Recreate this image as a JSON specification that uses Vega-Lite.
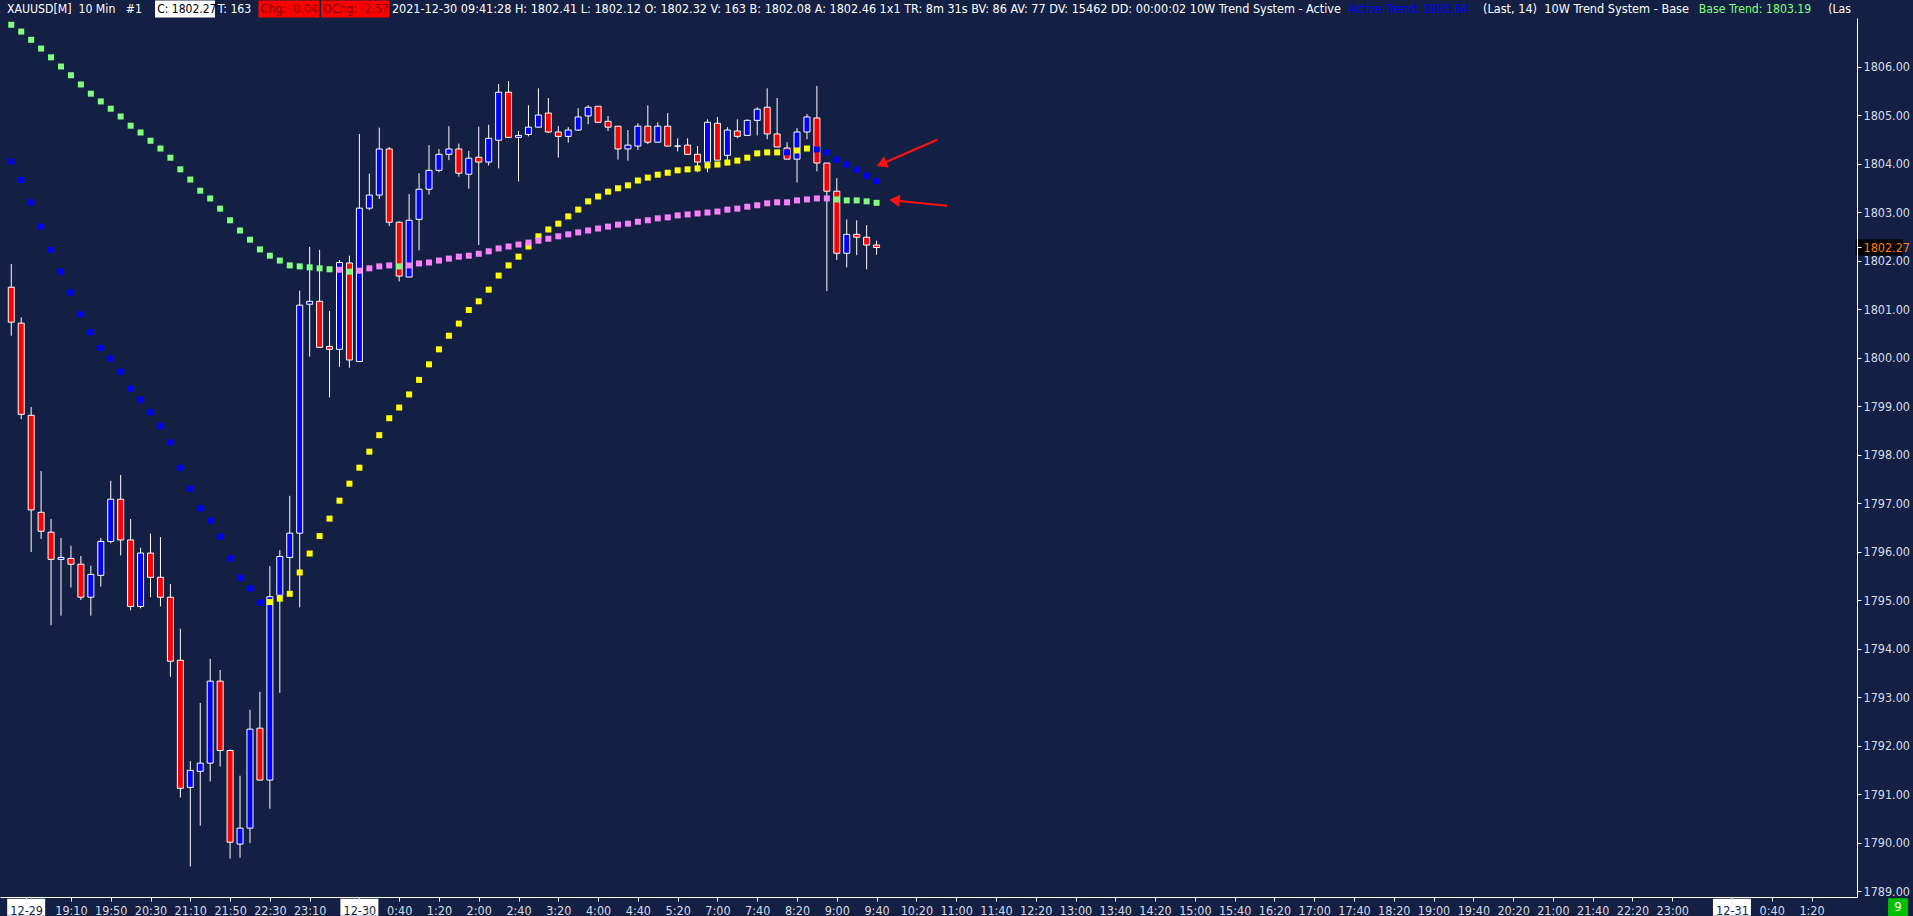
{
  "$schema": "https://vega.github.io/schema/vega-lite/v6.json",
  "width": 1857,
  "height": 879,
  "autosize": {"type": "none"},
  "padding": {"left": 0, "top": 18, "right": 56, "bottom": 19},
  "background": "#131f43",
  "config": {
    "view": {"stroke": null},
    "font": "DejaVu Sans Condensed, Liberation Sans, sans-serif",
    "text": {"font": "DejaVu Sans Condensed, Liberation Sans, sans-serif", "fontSize": 12.2, "baseline": "middle", "align": "left"},
    "axis": {"grid": false, "title": null, "domainColor": "#ffffff", "tickColor": "#ffffff", "labelColor": "#d8dde8", "labelFont": "DejaVu Sans Condensed, Liberation Sans, sans-serif", "labelFontSize": 12.5, "tickSize": 4, "labelOverlap": false, "labelFlush": false}
  },
  "datasets": {
    "bars": [
      {"i":0,"o":1801.45,"h":1801.93,"l":1800.45,"c":1800.73,"a":1804.04,"as":"dn","b":1806.86,"bs":"dn"},
      {"i":1,"o":1800.71,"h":1800.83,"l":1798.73,"c":1798.83,"a":1803.66,"as":"dn","b":1806.72,"bs":"dn"},
      {"i":2,"o":1798.81,"h":1798.98,"l":1795.99,"c":1796.86,"a":1803.20,"as":"dn","b":1806.55,"bs":"dn"},
      {"i":3,"o":1796.81,"h":1797.66,"l":1796.26,"c":1796.42,"a":1802.70,"as":"dn","b":1806.37,"bs":"dn"},
      {"i":4,"o":1796.40,"h":1796.67,"l":1794.48,"c":1795.84,"a":1802.22,"as":"dn","b":1806.19,"bs":"dn"},
      {"i":5,"o":1795.84,"h":1796.28,"l":1794.68,"c":1795.88,"a":1801.77,"as":"dn","b":1806.00,"bs":"dn"},
      {"i":6,"o":1795.86,"h":1796.12,"l":1795.26,"c":1795.74,"a":1801.34,"as":"dn","b":1805.82,"bs":"dn"},
      {"i":7,"o":1795.74,"h":1795.91,"l":1795.00,"c":1795.06,"a":1800.89,"as":"dn","b":1805.63,"bs":"dn"},
      {"i":8,"o":1795.06,"h":1795.71,"l":1794.68,"c":1795.53,"a":1800.52,"as":"dn","b":1805.44,"bs":"dn"},
      {"i":9,"o":1795.51,"h":1796.28,"l":1795.28,"c":1796.21,"a":1800.20,"as":"dn","b":1805.28,"bs":"dn"},
      {"i":10,"o":1796.21,"h":1797.46,"l":1796.17,"c":1797.08,"a":1799.98,"as":"dn","b":1805.13,"bs":"dn"},
      {"i":11,"o":1797.08,"h":1797.58,"l":1795.92,"c":1796.24,"a":1799.71,"as":"dn","b":1804.97,"bs":"dn"},
      {"i":12,"o":1796.24,"h":1796.67,"l":1794.79,"c":1794.87,"a":1799.36,"as":"dn","b":1804.78,"bs":"dn"},
      {"i":13,"o":1794.87,"h":1796.08,"l":1794.83,"c":1795.97,"a":1799.13,"as":"dn","b":1804.64,"bs":"dn"},
      {"i":14,"o":1795.97,"h":1796.37,"l":1795.06,"c":1795.47,"a":1798.87,"as":"dn","b":1804.47,"bs":"dn"},
      {"i":15,"o":1795.47,"h":1796.30,"l":1794.87,"c":1795.06,"a":1798.59,"as":"dn","b":1804.31,"bs":"dn"},
      {"i":16,"o":1795.06,"h":1795.33,"l":1793.42,"c":1793.74,"a":1798.25,"as":"dn","b":1804.12,"bs":"dn"},
      {"i":17,"o":1793.76,"h":1794.41,"l":1790.93,"c":1791.12,"a":1797.73,"as":"dn","b":1803.88,"bs":"dn"},
      {"i":18,"o":1791.14,"h":1791.68,"l":1789.51,"c":1791.49,"a":1797.30,"as":"dn","b":1803.67,"bs":"dn"},
      {"i":19,"o":1791.47,"h":1792.88,"l":1790.35,"c":1791.64,"a":1796.89,"as":"dn","b":1803.44,"bs":"dn"},
      {"i":20,"o":1791.64,"h":1793.79,"l":1791.26,"c":1793.33,"a":1796.64,"as":"dn","b":1803.28,"bs":"dn"},
      {"i":21,"o":1793.33,"h":1793.56,"l":1791.57,"c":1791.90,"a":1796.31,"as":"dn","b":1803.07,"bs":"dn"},
      {"i":22,"o":1791.90,"h":1791.92,"l":1789.67,"c":1790.01,"a":1795.86,"as":"dn","b":1802.83,"bs":"dn"},
      {"i":23,"o":1789.97,"h":1791.38,"l":1789.69,"c":1790.30,"a":1795.46,"as":"dn","b":1802.62,"bs":"dn"},
      {"i":24,"o":1790.30,"h":1792.74,"l":1789.99,"c":1792.34,"a":1795.24,"as":"dn","b":1802.43,"bs":"dn"},
      {"i":25,"o":1792.36,"h":1793.11,"l":1791.29,"c":1791.29,"a":1794.95,"as":"dn","b":1802.23,"bs":"dn"},
      {"i":26,"o":1791.29,"h":1795.70,"l":1790.70,"c":1795.07,"a":1794.96,"as":"up","b":1802.10,"bs":"dn"},
      {"i":27,"o":1795.10,"h":1796.03,"l":1793.09,"c":1795.90,"a":1795.03,"as":"up","b":1802.00,"bs":"dn"},
      {"i":28,"o":1795.88,"h":1797.15,"l":1795.14,"c":1796.38,"a":1795.13,"as":"up","b":1801.90,"bs":"dn"},
      {"i":29,"o":1796.38,"h":1801.38,"l":1794.85,"c":1801.08,"a":1795.57,"as":"up","b":1801.88,"bs":"dn"},
      {"i":30,"o":1801.10,"h":1802.28,"l":1800.02,"c":1801.16,"a":1795.96,"as":"up","b":1801.86,"bs":"dn"},
      {"i":31,"o":1801.16,"h":1802.22,"l":1800.21,"c":1800.21,"a":1796.32,"as":"up","b":1801.84,"bs":"dn"},
      {"i":32,"o":1800.23,"h":1800.96,"l":1799.18,"c":1800.17,"a":1796.68,"as":"up","b":1801.82,"bs":"dn"},
      {"i":33,"o":1800.17,"h":1802.01,"l":1799.81,"c":1801.96,"a":1797.05,"as":"up","b":1801.81,"bs":"up"},
      {"i":34,"o":1801.95,"h":1802.10,"l":1799.79,"c":1799.95,"a":1797.40,"as":"up","b":1801.77,"bs":"dn"},
      {"i":35,"o":1799.92,"h":1804.61,"l":1799.92,"c":1803.08,"a":1797.73,"as":"up","b":1801.79,"bs":"up"},
      {"i":36,"o":1803.08,"h":1803.79,"l":1803.04,"c":1803.35,"a":1798.06,"as":"up","b":1801.84,"bs":"up"},
      {"i":37,"o":1803.35,"h":1804.74,"l":1803.27,"c":1804.30,"a":1798.40,"as":"up","b":1801.88,"bs":"up"},
      {"i":38,"o":1804.30,"h":1804.34,"l":1802.71,"c":1802.79,"a":1798.75,"as":"up","b":1801.90,"bs":"up"},
      {"i":39,"o":1802.79,"h":1802.81,"l":1801.57,"c":1801.68,"a":1798.97,"as":"up","b":1801.88,"bs":"dn"},
      {"i":40,"o":1801.66,"h":1803.37,"l":1801.66,"c":1802.83,"a":1799.24,"as":"up","b":1801.90,"bs":"up"},
      {"i":41,"o":1802.85,"h":1803.80,"l":1802.21,"c":1803.47,"a":1799.54,"as":"up","b":1801.94,"bs":"up"},
      {"i":42,"o":1803.47,"h":1804.38,"l":1803.36,"c":1803.86,"a":1799.86,"as":"up","b":1801.96,"bs":"up"},
      {"i":43,"o":1803.86,"h":1804.30,"l":1803.82,"c":1804.19,"a":1800.17,"as":"up","b":1802.00,"bs":"up"},
      {"i":44,"o":1804.19,"h":1804.77,"l":1804.07,"c":1804.30,"a":1800.45,"as":"up","b":1802.04,"bs":"up"},
      {"i":45,"o":1804.30,"h":1804.41,"l":1803.73,"c":1803.80,"a":1800.70,"as":"up","b":1802.08,"bs":"up"},
      {"i":46,"o":1803.78,"h":1804.26,"l":1803.48,"c":1804.11,"a":1800.98,"as":"up","b":1802.10,"bs":"up"},
      {"i":47,"o":1804.13,"h":1804.76,"l":1802.32,"c":1804.03,"a":1801.16,"as":"up","b":1802.14,"bs":"up"},
      {"i":48,"o":1804.03,"h":1804.80,"l":1803.96,"c":1804.52,"a":1801.40,"as":"up","b":1802.19,"bs":"up"},
      {"i":49,"o":1804.48,"h":1805.64,"l":1803.90,"c":1805.47,"a":1801.69,"as":"up","b":1802.25,"bs":"up"},
      {"i":50,"o":1805.47,"h":1805.70,"l":1804.54,"c":1804.54,"a":1801.90,"as":"up","b":1802.29,"bs":"up"},
      {"i":51,"o":1804.54,"h":1804.67,"l":1803.63,"c":1804.58,"a":1802.08,"as":"up","b":1802.33,"bs":"up"},
      {"i":52,"o":1804.60,"h":1805.20,"l":1804.56,"c":1804.75,"a":1802.29,"as":"up","b":1802.37,"bs":"up"},
      {"i":53,"o":1804.75,"h":1805.55,"l":1804.75,"c":1805.00,"a":1802.50,"as":"up","b":1802.41,"bs":"up"},
      {"i":54,"o":1805.04,"h":1805.35,"l":1804.63,"c":1804.65,"a":1802.64,"as":"up","b":1802.45,"bs":"up"},
      {"i":55,"o":1804.65,"h":1804.77,"l":1804.12,"c":1804.56,"a":1802.76,"as":"up","b":1802.50,"bs":"up"},
      {"i":56,"o":1804.56,"h":1804.75,"l":1804.43,"c":1804.69,"a":1802.91,"as":"up","b":1802.54,"bs":"up"},
      {"i":57,"o":1804.69,"h":1805.14,"l":1804.67,"c":1804.96,"a":1803.05,"as":"up","b":1802.58,"bs":"up"},
      {"i":58,"o":1804.98,"h":1805.20,"l":1804.81,"c":1805.16,"a":1803.22,"as":"up","b":1802.62,"bs":"up"},
      {"i":59,"o":1805.18,"h":1805.18,"l":1804.85,"c":1804.85,"a":1803.32,"as":"up","b":1802.66,"bs":"up"},
      {"i":60,"o":1804.87,"h":1804.98,"l":1804.67,"c":1804.75,"a":1803.42,"as":"up","b":1802.70,"bs":"up"},
      {"i":61,"o":1804.77,"h":1804.77,"l":1804.08,"c":1804.30,"a":1803.49,"as":"up","b":1802.74,"bs":"up"},
      {"i":62,"o":1804.30,"h":1804.69,"l":1804.06,"c":1804.38,"a":1803.55,"as":"up","b":1802.76,"bs":"up"},
      {"i":63,"o":1804.36,"h":1804.83,"l":1804.28,"c":1804.77,"a":1803.65,"as":"up","b":1802.80,"bs":"up"},
      {"i":64,"o":1804.77,"h":1805.20,"l":1804.40,"c":1804.44,"a":1803.71,"as":"up","b":1802.83,"bs":"up"},
      {"i":65,"o":1804.44,"h":1804.85,"l":1804.44,"c":1804.77,"a":1803.77,"as":"up","b":1802.87,"bs":"up"},
      {"i":66,"o":1804.77,"h":1805.04,"l":1804.36,"c":1804.36,"a":1803.81,"as":"up","b":1802.89,"bs":"up"},
      {"i":67,"o":1804.36,"h":1804.52,"l":1804.25,"c":1804.36,"a":1803.86,"as":"up","b":1802.93,"bs":"up"},
      {"i":68,"o":1804.38,"h":1804.52,"l":1804.19,"c":1804.19,"a":1803.88,"as":"up","b":1802.95,"bs":"up"},
      {"i":69,"o":1804.19,"h":1804.36,"l":1803.82,"c":1804.03,"a":1803.90,"as":"up","b":1802.97,"bs":"up"},
      {"i":70,"o":1804.03,"h":1804.91,"l":1803.82,"c":1804.85,"a":1803.96,"as":"up","b":1802.99,"bs":"up"},
      {"i":71,"o":1804.83,"h":1804.96,"l":1804.07,"c":1804.07,"a":1803.98,"as":"up","b":1803.01,"bs":"up"},
      {"i":72,"o":1804.17,"h":1804.75,"l":1804.07,"c":1804.69,"a":1804.02,"as":"up","b":1803.05,"bs":"up"},
      {"i":73,"o":1804.67,"h":1804.91,"l":1804.52,"c":1804.56,"a":1804.06,"as":"up","b":1803.07,"bs":"up"},
      {"i":74,"o":1804.58,"h":1804.91,"l":1804.58,"c":1804.89,"a":1804.12,"as":"up","b":1803.11,"bs":"up"},
      {"i":75,"o":1804.89,"h":1805.16,"l":1804.58,"c":1805.12,"a":1804.21,"as":"up","b":1803.14,"bs":"up"},
      {"i":76,"o":1805.16,"h":1805.55,"l":1804.50,"c":1804.61,"a":1804.23,"as":"up","b":1803.18,"bs":"up"},
      {"i":77,"o":1804.61,"h":1805.35,"l":1804.34,"c":1804.34,"a":1804.23,"as":"up","b":1803.20,"bs":"up"},
      {"i":78,"o":1804.32,"h":1804.44,"l":1804.09,"c":1804.09,"a":1804.23,"as":"dn","b":1803.20,"bs":"up"},
      {"i":79,"o":1804.09,"h":1804.73,"l":1803.61,"c":1804.65,"a":1804.27,"as":"up","b":1803.24,"bs":"up"},
      {"i":80,"o":1804.65,"h":1805.02,"l":1804.50,"c":1804.96,"a":1804.31,"as":"up","b":1803.26,"bs":"up"},
      {"i":81,"o":1804.94,"h":1805.60,"l":1803.84,"c":1804.01,"a":1804.29,"as":"dn","b":1803.28,"bs":"up"},
      {"i":82,"o":1804.01,"h":1804.01,"l":1801.37,"c":1803.43,"a":1804.23,"as":"dn","b":1803.28,"bs":"up"},
      {"i":83,"o":1803.43,"h":1803.70,"l":1802.01,"c":1802.15,"a":1804.08,"as":"dn","b":1803.26,"bs":"dn"},
      {"i":84,"o":1802.15,"h":1802.85,"l":1801.86,"c":1802.54,"a":1803.98,"as":"dn","b":1803.24,"bs":"dn"},
      {"i":85,"o":1802.54,"h":1802.83,"l":1802.11,"c":1802.48,"a":1803.87,"as":"dn","b":1803.24,"bs":"dn"},
      {"i":86,"o":1802.48,"h":1802.73,"l":1801.82,"c":1802.32,"a":1803.75,"as":"dn","b":1803.22,"bs":"dn"},
      {"i":87,"o":1802.32,"h":1802.41,"l":1802.12,"c":1802.27,"a":1803.64,"as":"dn","b":1803.19,"bs":"dn"}
    ],
    "arrows": [
      {"id":"active","x1":93.1,"y1":1804.49,"x2":87.5,"y2":1803.99},
      {"id":"base","x1":94.1,"y1":1803.13,"x2":88.8,"y2":1803.24}
    ],
    "dates": [{"i":1.5},{"i":35},{"i":173}]
  },
  "layer": [
    {
      "data": {"name": "bars"},
      "mark": {"type": "rule", "color": "#ffffff", "strokeWidth": 1},
      "encoding": {
        "x": {"field": "i", "type": "quantitative", "scale": {"domain": [-0.63, 185.07], "nice": false, "zero": false},
          "axis": {"orient": "bottom", "title": null, "zindex": 1, "labelPadding": 3, "labelBaseline": "top",
            "values": [1.5,6,10,14,18,22,26,30,35,39,43,47,51,55,59,63,67,71,75,79,83,87,91,95,99,103,107,111,115,119,123,127,131,135,139,143,147,151,155,159,163,167,173,177,181],
            "labelExpr": "['12-29','19:10','19:50','20:30','21:10','21:50','22:30','23:10','12-30','0:40','1:20','2:00','2:40','3:20','4:00','4:40','5:20','7:00','7:40','8:20','9:00','9:40','10:20','11:00','11:40','12:20','13:00','13:40','14:20','15:00','15:40','16:20','17:00','17:40','18:20','19:00','19:40','20:20','21:00','21:40','22:20','23:00','12-31','0:40','1:20'][indexof([1.5,6,10,14,18,22,26,30,35,39,43,47,51,55,59,63,67,71,75,79,83,87,91,95,99,103,107,111,115,119,123,127,131,135,139,143,147,151,155,159,163,167,173,177,181], datum.value)]",
            "labelColor": {"condition": {"test": "datum.value == 1.5 || datum.value == 35 || datum.value == 173", "value": "#131f43"}, "value": "#d8dde8"}}},
        "y": {"field": "l", "type": "quantitative", "scale": {"domain": [1788.88, 1807.0], "nice": false, "zero": false},
          "axis": {"orient": "right", "title": null, "zindex": 1, "labelPadding": 2,
            "values": [1789,1790,1791,1792,1793,1794,1795,1796,1797,1798,1799,1800,1801,1802,1802.27,1803,1804,1805,1806],
            "format": ".2f",
            "labelColor": {"condition": {"test": "datum.value == 1802.27", "value": "#ff8000"}, "value": "#d8dde8"}}},
        "y2": {"field": "h"}
      }
    },
    {
      "data": {"name": "bars"},
      "mark": {"type": "bar", "size": 6, "stroke": "#ffffff", "strokeWidth": 1, "orient": "vertical"},
      "encoding": {
        "x": {"field": "i", "type": "quantitative", "scale": {"domain": [-0.63, 185.07], "nice": false, "zero": false}},
        "y": {"field": "o", "type": "quantitative", "scale": {"domain": [1788.88, 1807.0], "nice": false, "zero": false}},
        "y2": {"field": "c"},
        "fill": {"condition": {"test": "datum.c < datum.o", "value": "#ff0000"}, "value": "#0000ff"}
      }
    },
    {
      "data": {"name": "bars"},
      "mark": {"type": "point", "shape": "square", "size": 36, "filled": true, "opacity": 1, "strokeWidth": 0},
      "encoding": {
        "x": {"field": "i", "type": "quantitative", "scale": {"domain": [-0.63, 185.07], "nice": false, "zero": false}},
        "y": {"field": "a", "type": "quantitative", "scale": {"domain": [1788.88, 1807.0], "nice": false, "zero": false}},
        "fill": {"condition": {"test": "datum.as == 'up'", "value": "#ffff00"}, "value": "#0000ff"}
      }
    },
    {
      "data": {"name": "bars"},
      "mark": {"type": "point", "shape": "square", "size": 36, "filled": true, "opacity": 1, "strokeWidth": 0},
      "encoding": {
        "x": {"field": "i", "type": "quantitative", "scale": {"domain": [-0.63, 185.07], "nice": false, "zero": false}},
        "y": {"field": "b", "type": "quantitative", "scale": {"domain": [1788.88, 1807.0], "nice": false, "zero": false}},
        "fill": {"condition": {"test": "datum.bs == 'up'", "value": "#ff80ff"}, "value": "#80ff80"}
      }
    },
    {
      "data": {"name": "arrows"},
      "mark": {"type": "rule", "color": "#ff1010", "strokeWidth": 2},
      "encoding": {
        "x": {"field": "x1", "type": "quantitative", "scale": {"domain": [-0.63, 185.07], "nice": false, "zero": false}},
        "y": {"field": "y1", "type": "quantitative", "scale": {"domain": [1788.88, 1807.0], "nice": false, "zero": false}},
        "x2": {"field": "x2"},
        "y2": {"field": "y2"}
      }
    },
    {
      "data": {"name": "arrows"},
      "transform": [{"filter": "datum.id == 'active'"}],
      "mark": {"type": "point", "shape": "triangle-left", "size": 150, "filled": true, "opacity": 1, "color": "#ff1010", "angle": 337},
      "encoding": {
        "x": {"field": "x2", "type": "quantitative", "scale": {"domain": [-0.63, 185.07], "nice": false, "zero": false}},
        "y": {"field": "y2", "type": "quantitative", "scale": {"domain": [1788.88, 1807.0], "nice": false, "zero": false}}
      }
    },
    {
      "data": {"name": "arrows"},
      "transform": [{"filter": "datum.id == 'base'"}],
      "mark": {"type": "point", "shape": "triangle-left", "size": 150, "filled": true, "opacity": 1, "color": "#ff1010", "angle": 6},
      "encoding": {
        "x": {"field": "x2", "type": "quantitative", "scale": {"domain": [-0.63, 185.07], "nice": false, "zero": false}},
        "y": {"field": "y2", "type": "quantitative", "scale": {"domain": [1788.88, 1807.0], "nice": false, "zero": false}}
      }
    },
    {
      "data": {"name": "dates"},
      "mark": {"type": "point", "shape": "M-1,-0.45H1V0.45H-1Z", "size": 1444, "filled": true, "opacity": 1, "color": "#ffffff", "strokeWidth": 0},
      "encoding": {
        "x": {"field": "i", "type": "quantitative", "scale": {"domain": [-0.63, 185.07], "nice": false, "zero": false}},
        "y": {"datum": 1788.67, "type": "quantitative", "scale": {"domain": [1788.88, 1807.0], "nice": false, "zero": false}}
      }
    },
    {
      "data": {"values": [{"p": 1802.27}]},
      "mark": {"type": "point", "shape": "M-1,-0.34H1V0.34H-1Z", "size": 2209, "filled": true, "opacity": 1, "color": "#000000", "strokeWidth": 0},
      "encoding": {
        "x": {"datum": 187.8, "type": "quantitative", "scale": {"domain": [-0.63, 185.07], "nice": false, "zero": false}},
        "y": {"field": "p", "type": "quantitative", "scale": {"domain": [1788.88, 1807.0], "nice": false, "zero": false}}
      }
    },
    {
      "data": {"values": [{"t": "9"}]},
      "mark": {"type": "point", "shape": "M-1,-0.9H1V0.9H-1Z", "size": 400, "filled": true, "opacity": 1, "color": "#00c000", "strokeWidth": 0},
      "encoding": {
        "x": {"datum": 189.7, "type": "quantitative", "scale": {"domain": [-0.63, 185.07], "nice": false, "zero": false}},
        "y": {"datum": 1788.67, "type": "quantitative", "scale": {"domain": [1788.88, 1807.0], "nice": false, "zero": false}}
      }
    },
    {
      "data": {"values": [{"t": "9"}]},
      "mark": {"type": "text", "color": "#ffffff", "fontSize": 13, "align": "center"},
      "encoding": {
        "x": {"datum": 189.7, "type": "quantitative", "scale": {"domain": [-0.63, 185.07], "nice": false, "zero": false}},
        "y": {"datum": 1788.67, "type": "quantitative", "scale": {"domain": [1788.88, 1807.0], "nice": false, "zero": false}},
        "text": {"field": "t"}
      }
    },
    {
      "data": {"values": [{"t": "C"}]},
      "mark": {"type": "point", "shape": "M-1,-0.283H1V0.283H-1Z", "size": 3600, "filled": true, "opacity": 1, "color": "#ffffff", "strokeWidth": 0},
      "encoding": {
        "x": {"datum": 17.47, "type": "quantitative", "scale": {"domain": [-0.63, 185.07], "nice": false, "zero": false}},
        "y": {"datum": 1807.186, "type": "quantitative", "scale": {"domain": [1788.88, 1807.0], "nice": false, "zero": false}}
      }
    },
    {
      "data": {"values": [{"t": "Chg"}]},
      "mark": {"type": "point", "shape": "M-1,-0.279H1V0.279H-1Z", "size": 3721, "filled": true, "opacity": 1, "color": "#ff0000", "strokeWidth": 0},
      "encoding": {
        "x": {"datum": 27.92, "type": "quantitative", "scale": {"domain": [-0.63, 185.07], "nice": false, "zero": false}},
        "y": {"datum": 1807.186, "type": "quantitative", "scale": {"domain": [1788.88, 1807.0], "nice": false, "zero": false}}
      }
    },
    {
      "data": {"values": [{"t": "DChg"}]},
      "mark": {"type": "point", "shape": "M-1,-0.25H1V0.25H-1Z", "size": 4624, "filled": true, "opacity": 1, "color": "#ff0000", "strokeWidth": 0},
      "encoding": {
        "x": {"datum": 34.57, "type": "quantitative", "scale": {"domain": [-0.63, 185.07], "nice": false, "zero": false}},
        "y": {"datum": 1807.186, "type": "quantitative", "scale": {"domain": [1788.88, 1807.0], "nice": false, "zero": false}}
      }
    },
    {
      "data": {"values": [{"t": "XAUUSD[M]\u00a0 10 Min\u00a0\u00a0 #1"}]},
      "mark": {"type": "text", "color": "#ffffff"},
      "encoding": {
        "x": {"datum": -0.43, "type": "quantitative", "scale": {"domain": [-0.63, 185.07], "nice": false, "zero": false}},
        "y": {"datum": 1807.186, "type": "quantitative", "scale": {"domain": [1788.88, 1807.0], "nice": false, "zero": false}},
        "text": {"field": "t"}
      }
    },
    {
      "data": {"values": [{"t": "C: 1802.27"}]},
      "mark": {"type": "text", "color": "#000000", "fontSize": 12},
      "encoding": {
        "x": {"datum": 14.67, "type": "quantitative", "scale": {"domain": [-0.63, 185.07], "nice": false, "zero": false}},
        "y": {"datum": 1807.186, "type": "quantitative", "scale": {"domain": [1788.88, 1807.0], "nice": false, "zero": false}},
        "text": {"field": "t"}
      }
    },
    {
      "data": {"values": [{"t": "T: 163"}]},
      "mark": {"type": "text", "color": "#ffffff"},
      "encoding": {
        "x": {"datum": 20.77, "type": "quantitative", "scale": {"domain": [-0.63, 185.07], "nice": false, "zero": false}},
        "y": {"datum": 1807.186, "type": "quantitative", "scale": {"domain": [1788.88, 1807.0], "nice": false, "zero": false}},
        "text": {"field": "t"}
      }
    },
    {
      "data": {"values": [{"t": "Chg: -0.04"}]},
      "mark": {"type": "text", "color": "#7a0000"},
      "encoding": {
        "x": {"datum": 25.07, "type": "quantitative", "scale": {"domain": [-0.63, 185.07], "nice": false, "zero": false}},
        "y": {"datum": 1807.186, "type": "quantitative", "scale": {"domain": [1788.88, 1807.0], "nice": false, "zero": false}},
        "text": {"field": "t"}
      }
    },
    {
      "data": {"values": [{"t": "DChg: -2.57"}]},
      "mark": {"type": "text", "color": "#7a0000"},
      "encoding": {
        "x": {"datum": 31.37, "type": "quantitative", "scale": {"domain": [-0.63, 185.07], "nice": false, "zero": false}},
        "y": {"datum": 1807.186, "type": "quantitative", "scale": {"domain": [1788.88, 1807.0], "nice": false, "zero": false}},
        "text": {"field": "t"}
      }
    },
    {
      "data": {"values": [{"t": "2021-12-30 09:41:28 H: 1802.41 L: 1802.12 O: 1802.32 V: 163 B: 1802.08 A: 1802.46 1x1 TR: 8m 31s BV: 86 AV: 77 DV: 15462 DD: 00:00:02 10W Trend System - Active"}]},
      "mark": {"type": "text", "color": "#ffffff", "fontSize": 12.5},
      "encoding": {
        "x": {"datum": 38.27, "type": "quantitative", "scale": {"domain": [-0.63, 185.07], "nice": false, "zero": false}},
        "y": {"datum": 1807.186, "type": "quantitative", "scale": {"domain": [1788.88, 1807.0], "nice": false, "zero": false}},
        "text": {"field": "t"}
      }
    },
    {
      "data": {"values": [{"t": "Active Trend: 1803.64"}]},
      "mark": {"type": "text", "color": "#0000ff"},
      "encoding": {
        "x": {"datum": 134.47, "type": "quantitative", "scale": {"domain": [-0.63, 185.07], "nice": false, "zero": false}},
        "y": {"datum": 1807.186, "type": "quantitative", "scale": {"domain": [1788.88, 1807.0], "nice": false, "zero": false}},
        "text": {"field": "t"}
      }
    },
    {
      "data": {"values": [{"t": "(Last, 14)\u00a0 10W Trend System - Base"}]},
      "mark": {"type": "text", "color": "#ffffff", "fontSize": 12.6},
      "encoding": {
        "x": {"datum": 147.97, "type": "quantitative", "scale": {"domain": [-0.63, 185.07], "nice": false, "zero": false}},
        "y": {"datum": 1807.186, "type": "quantitative", "scale": {"domain": [1788.88, 1807.0], "nice": false, "zero": false}},
        "text": {"field": "t"}
      }
    },
    {
      "data": {"values": [{"t": "Base Trend: 1803.19"}]},
      "mark": {"type": "text", "color": "#80ff80"},
      "encoding": {
        "x": {"datum": 169.67, "type": "quantitative", "scale": {"domain": [-0.63, 185.07], "nice": false, "zero": false}},
        "y": {"datum": 1807.186, "type": "quantitative", "scale": {"domain": [1788.88, 1807.0], "nice": false, "zero": false}},
        "text": {"field": "t"}
      }
    },
    {
      "data": {"values": [{"t": "(Las"}]},
      "mark": {"type": "text", "color": "#ffffff"},
      "encoding": {
        "x": {"datum": 182.67, "type": "quantitative", "scale": {"domain": [-0.63, 185.07], "nice": false, "zero": false}},
        "y": {"datum": 1807.186, "type": "quantitative", "scale": {"domain": [1788.88, 1807.0], "nice": false, "zero": false}},
        "text": {"field": "t"}
      }
    }
  ]
}
